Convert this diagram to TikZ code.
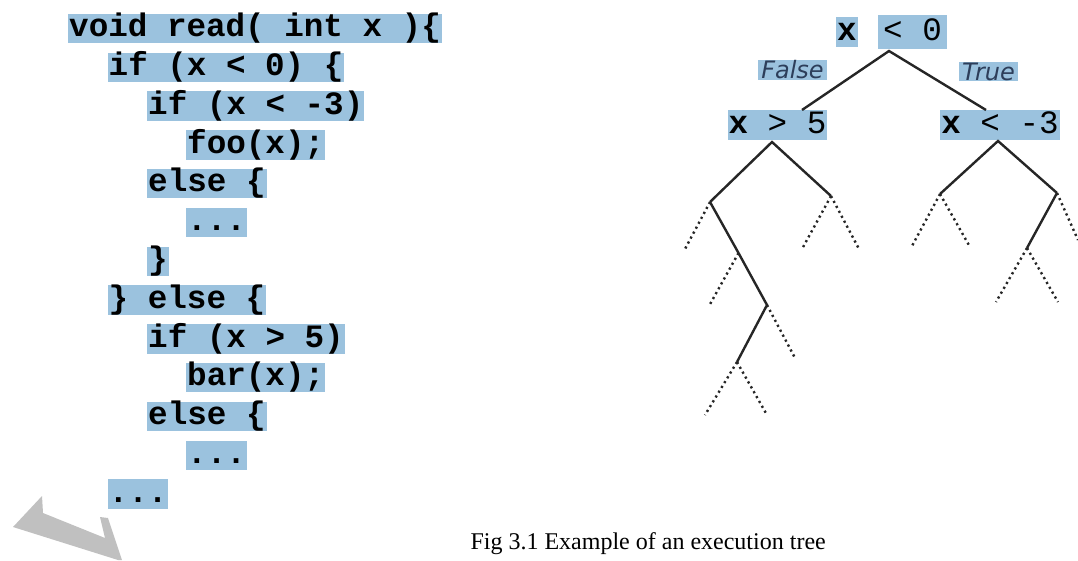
\documentclass[tikz,border=0pt]{standalone}
\usepackage{fontspec}
\setmainfont{Liberation Serif}
\setmonofont{Liberation Mono}
\newfontfamily\branchfont{DejaVu Sans}
\usetikzlibrary{positioning}

\definecolor{hlblue}{RGB}{155,194,222}
\definecolor{labelink}{RGB}{45,62,90}
\definecolor{markgray}{RGB}{192,192,192}

\tikzset{
  code/.style={anchor=west, fill=hlblue, inner xsep=1pt, inner ysep=0pt,
    text height=23pt, text depth=6.5pt,
    font=\ttfamily\bfseries\fontsize{32.6}{39}\selectfont},
  cond/.style={fill=hlblue, inner xsep=1pt, inner ysep=0pt,
    text height=23pt, text depth=6.5pt,
    font=\ttfamily\fontsize{32.6}{39}\selectfont},
  outcome/.style={fill=hlblue, text=labelink, inner xsep=3pt, inner ysep=1pt,
    font=\branchfont\itshape\fontsize{24}{28}\selectfont},
  branch/.style={line width=2.4pt, draw=black!85},
  open/.style={branch, dash pattern=on 2.2pt off 3.4pt}
}

\begin{document}
\begin{tikzpicture}[x=1pt, y=-1pt]
    \useasboundingbox (0,0) rectangle (1078,560);

    % source listing
    \node[code] (l1)  at (68,28.5)  {void read( int x )\{};
    \node[code] (l2)  at (107.5,67.3) {if (x < 0) \{};
    \node[code] (l3)  at (147,106.1) {if (x < -3)};
    \node[code] (l4)  at (186,144.9) {foo(x);};
    \node[code] (l5)  at (147,183.7) {else \{};
    \node[code] (l6)  at (186,222.5) {...};
    \node[code] (l7)  at (147,261.3) {\}};
    \node[code] (l8)  at (107.5,300.1) {\} else \{};
    \node[code] (l9)  at (147,338.9) {if (x > 5)};
    \node[code] (l10) at (186,377.7) {bar(x);};
    \node[code] (l11) at (147,416.5) {else \{};
    \node[code] (l12) at (186,455.3) {...};
    \node[code] (l13) at (107.5,494.1) {...};

    % execution tree
    \node[cond] (rootx) at (847,32) {\bfseries x};
    \node[cond, inner xsep=5pt, minimum height=34pt] (rootop) [right=20pt of rootx] {< 0};
    \node[cond] (neg) at (777.5,125) {{\bfseries x} > 5};
    \node[cond] (pos) at (1000,125) {{\bfseries x} < -3};
    \node[outcome] (no)  at (792.5,70) {False};
    \node[outcome] (yes) at (988.5,71.5) {True};

    \coordinate (r)  at (889,51);
    \coordinate (nt) at (802,110);
    \coordinate (pt) at (986,110);
    \coordinate (nb) at (772,142);
    \coordinate (pb) at (998,141);
    \coordinate (a) at (710,202);
    \coordinate (b) at (738.5,253);
    \coordinate (c) at (767,305);
    \coordinate (d) at (737,362);
    \coordinate (e) at (831,196);
    \coordinate (f) at (940,194);
    \coordinate (g) at (1057,193);
    \coordinate (h) at (1027,248);

    \draw[branch] (nt) -- (r) -- (pt);
    \draw[branch] (a) -- (nb) -- (e);
    \draw[branch] (f) -- (pb) -- (g);
    \draw[branch] (a) -- (b) -- (c) -- (d);
    \draw[branch] (g) -- (h);

    % unexplored paths
    \draw[open] (a) -- (685,249);
    \draw[open] (b) -- (709,306);
    \draw[open] (c) -- (795,358);
    \draw[open] (d) -- (705,415);
    \draw[open] (d) -- (767,415);
    \draw[open] (e) -- (802,249);
    \draw[open] (e) -- (859,249);
    \draw[open] (f) -- (912,246);
    \draw[open] (f) -- (970,247);
    \draw[open] (g) -- (1078,240);
    \draw[open] (h) -- (996,302);
    \draw[open] (h) -- (1058,302);

    \node[anchor=base west, font=\fontsize{24}{29}\selectfont] (caption) at (467,549)
        {Fig 3.1 Example of an execution tree};

    % grey mark in the corner
    \fill[markgray] (13,527) -- (42,496) -- (43,513) -- (105,538) -- (100,517)
        -- (108,518) -- (122,560) -- (118,560) -- cycle;
\end{tikzpicture}
\end{document}
